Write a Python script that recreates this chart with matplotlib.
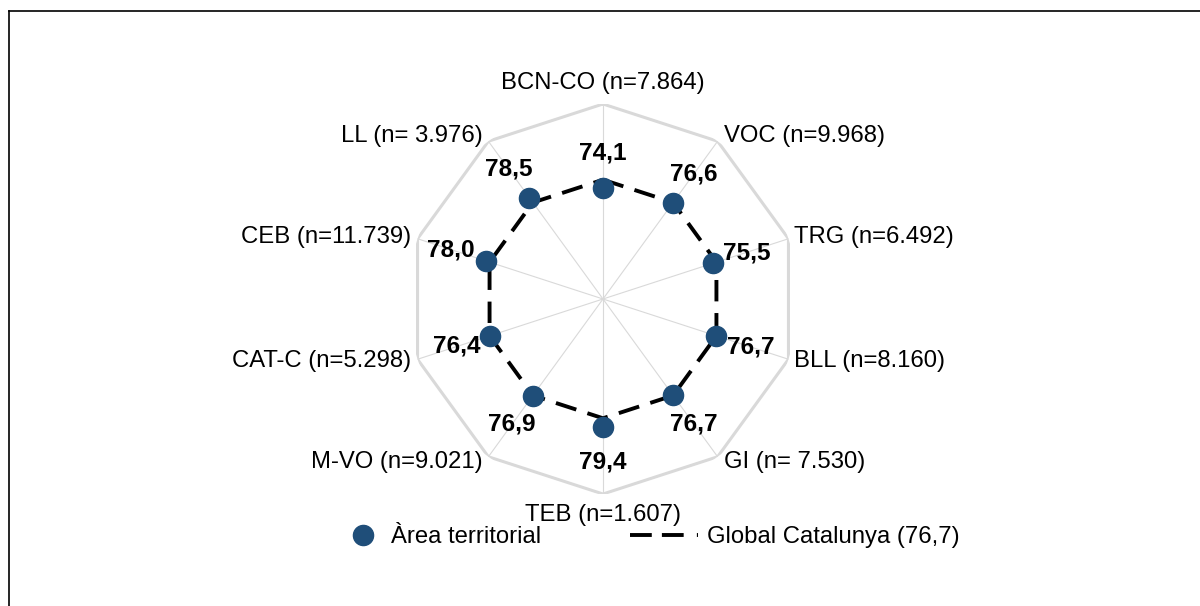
import numpy as np
import matplotlib
matplotlib.use("Agg")
import matplotlib.pyplot as plt
from matplotlib.lines import Line2D

plt.rcParams['font.family'] = ['Liberation Sans', 'DejaVu Sans']

# data
areas = ["BCN-CO", "VOC", "TRG", "BLL", "GI", "TEB", "M-VO", "CAT-C", "CEB", "LL"]
n_labels = ["n=7.864", "n=9.968", "n=6.492", "n=8.160", "n= 7.530",
            "n=1.607", "n=9.021", "n=5.298", "n=11.739", "n= 3.976"]
values = [74.1, 76.6, 75.5, 76.7, 76.7, 79.4, 76.9, 76.4, 78.0, 78.5]
global_cat = 76.7
r_min, r_max = 40, 100

dot_color = "#1F4E79"
grid_color = "#D9D9D9"
fs = 17.2

n = len(areas)
angles = np.linspace(0, 2 * np.pi, n, endpoint=False)
closed = np.append(angles, angles[0])

fig = plt.figure(figsize=(12, 6.06), dpi=100)
ax = fig.add_axes([0.34, 0.1848, 0.325, 0.6436], projection="polar")
ax.set_theta_zero_location("N")
ax.set_theta_direction(-1)
ax.set_ylim(r_min, r_max)
ax.grid(False)
ax.spines["polar"].set_visible(False)
ax.set_xticks([])
ax.set_yticks([])
ax.patch.set_alpha(0)

# outer decagon + spokes
ax.plot(closed, [r_max] * (n + 1), color=grid_color, lw=2.2, zorder=1)
for a in angles:
    ax.plot([a, a], [r_min, r_max], color=grid_color, lw=0.8, zorder=1)

# global line
ax.plot(closed, [global_cat] * (n + 1), color="black", lw=2.8,
        dashes=(5.5, 3), zorder=2)

# points
ax.plot(angles, values, linestyle="none", marker="o", markersize=14.5,
        color=dot_color, zorder=3, clip_on=False)

# value labels
for a, v in zip(angles, values):
    ax.annotate(f"{v:.1f}".replace(".", ","), xy=(a, v),
                xytext=(36 * np.sin(a), 35 * np.cos(a)), textcoords="offset pixels",
                ha="center", va="center", fontsize=17.6, fontweight="bold",
                annotation_clip=False)

# category labels
for a, name, nl in zip(angles, areas, n_labels):
    s, c = np.sin(a), np.cos(a)
    if abs(s) < 0.1:
        ha, dx, dy = "center", 0, 21 * c
    else:
        ha = "left" if s > 0 else "right"
        dx, dy = 6 * np.sign(s), 6 * c
    ax.annotate(f"{name} ({nl})", xy=(a, r_max), xytext=(dx, dy),
                textcoords="offset pixels", ha=ha, va="center",
                fontsize=fs, annotation_clip=False)

# legend (two pieces so each handle keeps its own length)
h1 = Line2D([], [], linestyle="none", marker="o", markersize=14.5, color=dot_color)
h2 = Line2D([], [], color="black", lw=2.8, dashes=(5.6, 2.6, 5.6, 3.4, 0.8, 10))
leg_y = 1 - 537 / 606
leg_kw = dict(loc="center left", frameon=False, fontsize=fs, borderpad=0,
              borderaxespad=0, handletextpad=0.38)
fig.legend([h1], ["Àrea territorial"], bbox_to_anchor=(344 / 1200, leg_y),
           handlelength=1.6, **leg_kw)
fig.legend([h2], ["Global Catalunya (76,7)"], bbox_to_anchor=(630 / 1200, leg_y),
           handlelength=2.85, **leg_kw)

# outer frame (top and left visible)
fig.add_artist(Line2D([9 / 1200, 1.0], [1 - 11 / 606, 1 - 11 / 606],
                      transform=fig.transFigure, color="black", lw=1.2))
fig.add_artist(Line2D([9 / 1200, 9 / 1200], [0, 1 - 11 / 606],
                      transform=fig.transFigure, color="black", lw=1.2))

fig.savefig("out.png", dpi=100, facecolor="white")
